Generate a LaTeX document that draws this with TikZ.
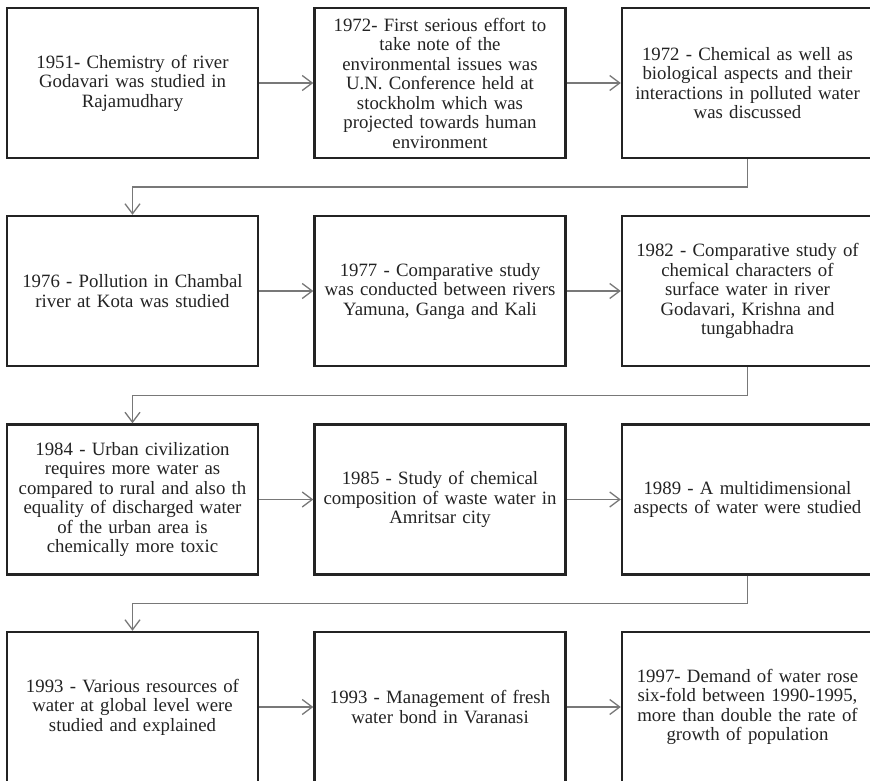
\documentclass[tikz,border=0pt]{standalone}
\usepackage{fontspec}
\setmainfont{Liberation Serif}
\usetikzlibrary{arrows.meta,calc}
\definecolor{boxline}{RGB}{35,35,35}
\definecolor{connline}{RGB}{120,120,120}
\definecolor{txt}{RGB}{35,35,35}
\begin{document}
\begin{tikzpicture}[x=1pt,y=-1pt,
  stagebox/.style={draw=boxline,line width=2.4pt,minimum width=251pt,minimum height=150pt,
    text width=240pt,align=center,text=txt,inner sep=0pt,font=\fontsize{18.8}{19.5}\selectfont},
  conn/.style={draw=connline,line width=1.3pt,-{Straight Barb[length=10pt,width=15pt,line width=1.3pt]}}]
\useasboundingbox[fill=white] (0,0) rectangle (870,780);
% row 1
\node[stagebox] (a1) at (132.5,83) {1951- Chemistry of river\\Godavari was studied in\\Rajamudhary};
\node[stagebox] (a2) at (440,83) {1972- First serious effort to\\take note of the\\environmental issues was\\U.N. Conference held at\\stockholm which was\\projected towards human\\environment};
\node[stagebox] (a3) at (747.5,83) {1972 - Chemical as well as\\biological aspects and their\\interactions in polluted water\\was discussed};
% row 2
\node[stagebox] (b1) at (132.5,291) {1976 - Pollution in Chambal\\river at Kota was studied};
\node[stagebox] (b2) at (440,291) {1977 - Comparative study\\was conducted between rivers\\Yamuna, Ganga and Kali};
\node[stagebox] (b3) at (747.5,291) {1982 - Comparative study of\\chemical characters of\\surface water in river\\Godavari, Krishna and\\tungabhadra};
% row 3
\node[stagebox] (c1) at (132.5,499.5) {1984 - Urban civilization\\requires more water as\\compared to rural and also th\\equality of discharged water\\of the urban area is\\chemically more toxic};
\node[stagebox] (c2) at (440,499.5) {1985 - Study of chemical\\composition of waste water in\\Amritsar city};
\node[stagebox] (c3) at (747.5,499.5) {1989 - A multidimensional\\aspects of water were studied};
% row 4
\node[stagebox] (d1) at (132.5,707) {1993 - Various resources of\\water at global level were\\studied and explained};
\node[stagebox] (d2) at (440,707) {1993 - Management of fresh\\water bond in Varanasi};
\node[stagebox] (d3) at (747.5,707) {1997- Demand of water rose\\six-fold between 1990-1995,\\more than double the rate of\\growth of population};
% horizontal connectors
\foreach \r in {a,b,c,d}{
  \draw[conn] (\r1.east) -- (\r2.west);
  \draw[conn] (\r2.east) -- (\r3.west);
}
% elbow connectors
\draw[conn] (a3.south) -- ($(a3.south)!.5!(a3.south|-b1.north)$) -| (b1.north);
\draw[conn] (b3.south) -- ($(b3.south)!.5!(b3.south|-c1.north)$) -| (c1.north);
\draw[conn] (c3.south) -- ($(c3.south)!.5!(c3.south|-d1.north)$) -| (d1.north);
\end{tikzpicture}
\end{document}
